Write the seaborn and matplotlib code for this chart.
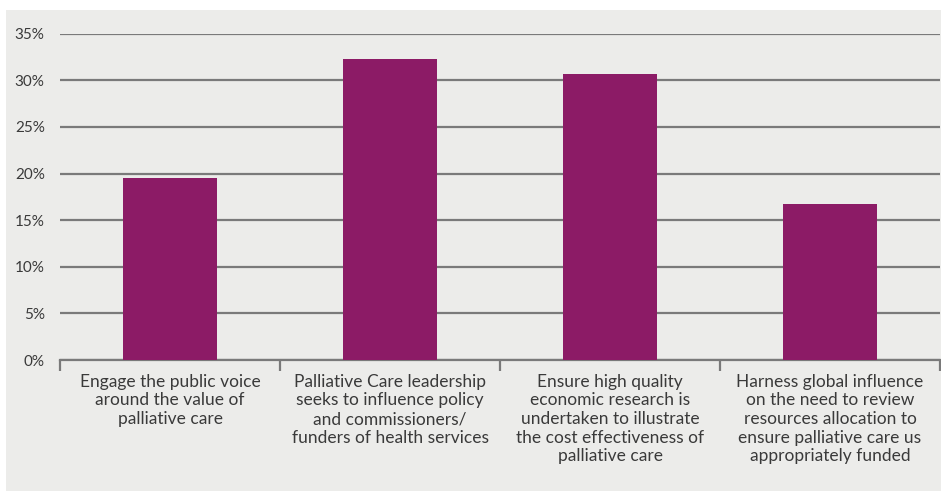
import matplotlib
matplotlib.use("Agg")
import matplotlib.pyplot as plt
from matplotlib.patches import Rectangle
import seaborn as sns
import pandas as pd

categories = [
    "Engage the public voice\naround the value of\npalliative care",
    "Palliative Care leadership\nseeks to influence policy\nand commissioners/\nfunders of health services",
    "Ensure high quality\neconomic research is\nundertaken to illustrate\nthe cost effectiveness of\npalliative care",
    "Harness global influence\non the need to review\nresources allocation to\nensure palliative care us\nappropriately funded",
]
values = [19.5, 32.3, 30.7, 16.7]
y_ticks = [0, 5, 10, 15, 20, 25, 30, 35]
y_labels = [f"{t}%" for t in y_ticks]

sns.set_style("white")
plt.rcParams["font.family"] = ["Lato", "DejaVu Sans"]

W, H = 941, 491
fig = plt.figure(figsize=(W / 100, H / 100), dpi=100)
fig.patch.set_facecolor("white")

# grey panel behind the chart
fig.add_artist(Rectangle((6 / W, 0), 1 - 6 / W, (H - 10) / H,
                         transform=fig.transFigure, facecolor="#ECECEA",
                         edgecolor="none", zorder=0))

ax = fig.add_axes([60 / W, 1 - 360 / H, 880 / W, (360 - 33.7) / H])
ax.set_facecolor("none")

df = pd.DataFrame({"category": categories, "value": values})
sns.barplot(data=df, x="category", y="value", color="#8C1B66",
            width=0.43, saturation=1, linewidth=0, ax=ax, zorder=3)

ax.set_xlim(-0.5, 3.5)
ax.set_ylim(0, 35)
ax.set_yticks(y_ticks)
ax.set_yticklabels(y_labels, fontsize=11, color="#3A3A3A")
ax.grid(axis="y", color="#7A7A7A", linewidth=1.6, zorder=1)
ax.set_axisbelow(True)

for s in ["top", "right", "left"]:
    ax.spines[s].set_visible(False)
ax.spines["bottom"].set_color("#7A7A7A")
ax.spines["bottom"].set_linewidth(1.6)

ax.tick_params(axis="y", length=0, pad=11)
ax.tick_params(axis="x", which="major", bottom=False, length=0, pad=10)
ax.set_xticks([-0.5, 0.5, 1.5, 2.5, 3.5], minor=True)
ax.tick_params(axis="x", which="minor", bottom=True, length=8, width=1.6,
               color="#7A7A7A")
ax.set_xticklabels(categories, fontsize=12.5, color="#3A3A3A", linespacing=1.2)
ax.set_xlabel("")
ax.set_ylabel("")

fig.savefig("out.png", dpi=100, facecolor="white")
